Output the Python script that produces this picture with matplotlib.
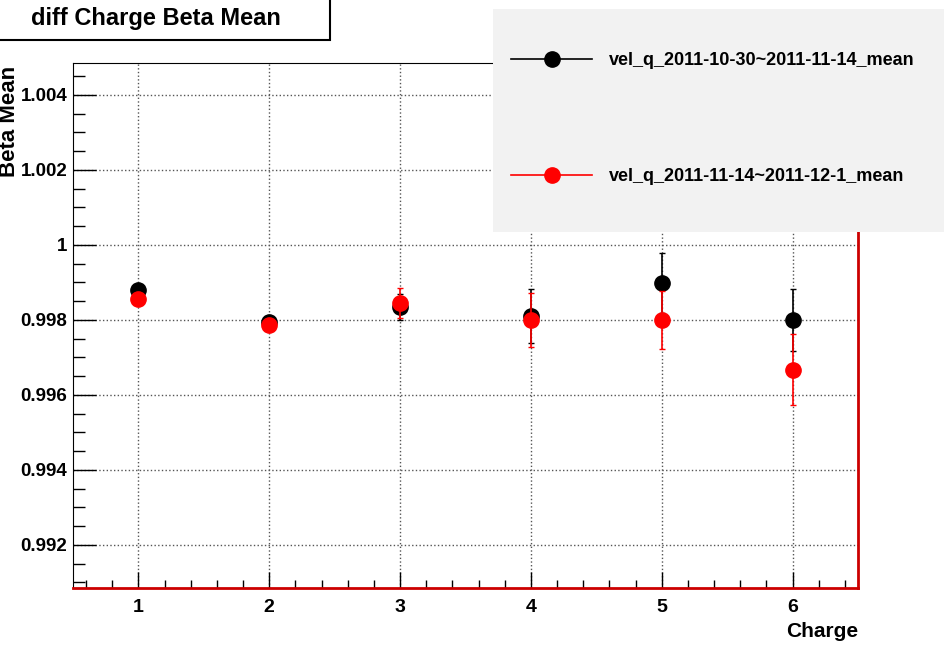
import matplotlib
matplotlib.use("Agg")
import matplotlib.pyplot as plt
from matplotlib.patches import Rectangle
from matplotlib.lines import Line2D
from matplotlib.ticker import MultipleLocator

plt.rcParams['font.family'] = ['Liberation Sans Narrow', 'Liberation Sans', 'DejaVu Sans']
plt.rcParams['font.weight'] = 'bold'

charge = [1, 2, 3, 4, 5, 6]
mean_a = [0.99880, 0.99795, 0.99835, 0.99810, 0.99899, 0.99800]
err_a = [0.00010, 0.00008, 0.00035, 0.00072, 0.00080, 0.00083]
mean_b = [0.99856, 0.99785, 0.99845, 0.99800, 0.99800, 0.99667]
err_b = [0.00010, 0.00008, 0.00040, 0.00072, 0.00078, 0.00094]
label_a = 'vel_q_2011-10-30~2011-11-14_mean'
label_b = 'vel_q_2011-11-14~2011-12-1_mean'

fig = plt.figure(figsize=(9.45, 6.45), dpi=100)
ax = fig.add_axes([0.0772, 0.0884, 0.8308, 0.8139])

ax.errorbar(charge, mean_a, yerr=err_a, fmt='o', color='black', ms=11,
            elinewidth=1.2, capsize=2, zorder=3)
ax.errorbar(charge, mean_b, yerr=err_b, fmt='o', color='red', ms=11,
            elinewidth=1.2, capsize=2, zorder=4)

ax.set_xlim(0.5, 6.5)
ax.set_ylim(0.99085, 1.00485)
ax.xaxis.set_major_locator(MultipleLocator(1))
ax.xaxis.set_minor_locator(MultipleLocator(0.2))
ax.yaxis.set_minor_locator(MultipleLocator(0.0005))
ax.set_yticks([0.992, 0.994, 0.996, 0.998, 1.0, 1.002, 1.004])
ax.set_yticklabels(['0.992', '0.994', '0.996', '0.998', '1', '1.002', '1.004'])
ax.tick_params(axis='x', which='major', direction='in', labelsize=14,
               length=11.5, width=1, pad=8)
ax.tick_params(axis='y', which='major', direction='in', labelsize=13.5,
               length=16.5, width=1, pad=4)
ax.tick_params(axis='y', which='minor', direction='in', length=8.5, width=1)
ax.tick_params(axis='x', which='minor', direction='in', length=6, width=1)
ax.tick_params(top=False, right=False, which='both')
ax.grid(True, which='major', linestyle=':', color='#555555', linewidth=1)

for s in ['bottom', 'right']:
    ax.spines[s].set_color('#cc0000')
    ax.spines[s].set_linewidth(2)

ax.set_xlabel('Charge', fontsize=15, fontweight='bold', loc='right', labelpad=4)
ax.set_ylabel('Beta Mean', fontsize=16, fontweight='bold', loc='top')
ax.yaxis.set_label_coords(-0.068, 0.995)

# legend pane, ROOT style
fig.patches.append(Rectangle((0.5217, 0.6403), 0.4783, 0.345, transform=fig.transFigure,
                             facecolor='#f2f2f2', edgecolor='none', zorder=1))
handles = [Line2D([], [], color='black', marker='o', ms=11, lw=1.2),
           Line2D([], [], color='red', marker='o', ms=11, lw=1.2)]
fig.legend(handles, [label_a, label_b], loc='upper left',
           bbox_to_anchor=(511 / 945, 1 - 52 / 645), frameon=False,
           fontsize=13, handlelength=4.5, handletextpad=0.9,
           labelspacing=5.5, borderpad=0, borderaxespad=0)

fig.patches.append(Rectangle((-0.01, 0.938), 0.359, 0.08, transform=fig.transFigure,
                             facecolor='white', edgecolor='black', linewidth=1.5))
fig.text(0.165, 0.971, 'diff Charge Beta Mean', ha='center', va='center',
         fontsize=17, fontweight='bold')

fig.savefig('out.png', dpi=100)
